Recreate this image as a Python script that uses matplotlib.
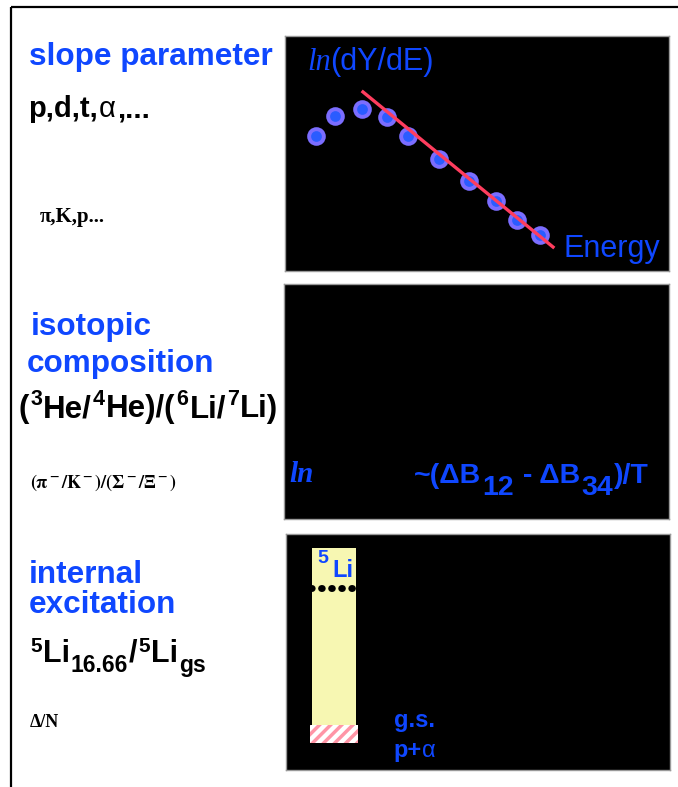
import numpy as np
import matplotlib.pyplot as plt
from matplotlib.patches import Rectangle

plt.rcParams['font.family'] = ['Liberation Sans', 'DejaVu Sans']
plt.rcParams['mathtext.fontset'] = 'custom'
plt.rcParams['mathtext.rm'] = 'Liberation Sans'
plt.rcParams['mathtext.bf'] = 'Liberation Sans:bold'
plt.rcParams['mathtext.it'] = 'Liberation Sans:italic'
plt.rcParams['hatch.linewidth'] = 2.5

BLUE = '#0f47ff'

# slope panel: spectrum points (energy, ln dY/dE) and the exponential fit
energy = [0.8, 1.3, 2.0, 2.65, 3.2, 4.0, 4.8, 5.5, 6.05, 6.65]
ln_yield = [5.75, 6.6, 6.9, 6.55, 5.75, 4.75, 3.85, 3.0, 2.15, 1.55]
fit_energy = [2.03, 6.98]
fit_ln_yield = [7.62, 1.02]

# 5Li level scheme (arbitrary energy units)
li5_column = [0.68, 1.82]
li5_bottom = 1.14
li5_top = 9.41
li5_excited = 7.71
li5_gs_band = [1.14, 1.91]

W, H = 678, 787
fig = plt.figure(figsize=(W / 100, H / 100), dpi=100)
bg = fig.add_axes([0, 0, 1, 1])
bg.set_xlim(0, W)
bg.set_ylim(H, 0)
bg.axis('off')
bg.add_patch(Rectangle((11, 7), W, H + 20, fill=False, lw=1.6, ec='black'))


def panel(x0, y0, x1, y1):
    ax = fig.add_axes([x0 / W, 1 - y1 / H, (x1 - x0) / W, (y1 - y0) / H])
    ax.set_facecolor('black')
    ax.set_xlim(0, 10)
    ax.set_ylim(0, 10)
    ax.set_xticks([])
    ax.set_yticks([])
    for s in ax.spines.values():
        s.set_color('#999999')
        s.set_linewidth(1)
    return ax


ax1 = panel(285, 36, 669, 271)
ax2 = panel(284, 284, 669, 519)
ax3 = panel(286, 534, 670, 770)

# text layer on top of everything, in pixel units
fg = fig.add_axes([0, 0, 1, 1], zorder=10)
fg.set_xlim(0, W)
fg.set_ylim(H, 0)
fg.axis('off')
renderer = fig.canvas.get_renderer()


def t(x, y, s, **kw):
    return fg.text(x, y, s, va='baseline', ha='left', **kw)


def pieces(x, y, parts, **base):
    # parts: (string, baseline shift in px, extra kwargs)
    for s, dy, kw in parts:
        opts = dict(base)
        opts.update(kw)
        txt = t(x, y + dy, s, **opts)
        x += txt.get_window_extent(renderer).width + 1


# ---- left column text
HEAD = dict(color=BLUE, fontsize=22.7, fontweight='bold')
t(29, 65, 'slope parameter', **HEAD)
pieces(28, 117, [('p,d,t,', 0, {}), ('α', 0, {'fontweight': 'normal'}), (',...', 0, {})],
       color='black', fontsize=21, fontweight='bold')
t(40, 222, 'π,K,p...', color='black', fontsize=15, fontweight='bold', family='Liberation Serif')
t(31, 335, 'isotopic', **HEAD)
t(27, 372, 'composition', **HEAD)
sup = {'fontsize': 15.5}
pieces(19, 417, [('(', 0, {}), ('3', -12, sup), ('He/', 0, {}), ('4', -12, sup),
                 ('He)/(', 0, {}), ('6', -12, sup), ('Li/', 0, {}), ('7', -12, sup),
                 ('Li)', 0, {})],
       color='black', fontsize=22.5, fontweight='bold')
t(30, 488, r'$\mathbf{(\pi^-/K^-)/(\Sigma^-/\Xi^-)}$', color='black', fontsize=13,
  math_fontfamily='stix')
t(29, 583, 'internal', **HEAD)
t(29, 613, 'excitation', **HEAD)
sup5 = {'fontsize': 15}
sub = {'fontsize': 16.5}
pieces(30, 662, [('5', -10, sup5), ('Li', 0, {}), ('16.66', 10, sub), ('/', 0, {}),
                 ('5', -10, sup5), ('Li', 0, {}), ('gs', 10, sub)],
       color='black', fontsize=22, fontweight='bold')
t(30, 727, 'Δ/N', color='black', fontsize=13, fontweight='bold', family='Liberation Serif')

# ---- panel 1: slope parameter
ax1.scatter(energy, ln_yield, s=180, color='#7b6dff', zorder=2, lw=0)
ax1.scatter(energy, ln_yield, s=60, color='#2a5cff', zorder=3, lw=0)
ax1.plot(fit_energy, fit_ln_yield, color='#ff3d5e', lw=2.4, zorder=4)
t(307, 70, 'ln', color=BLUE, fontsize=22, style='italic', family='Liberation Serif')
t(330, 70, '(dY/dE)', color=BLUE, fontsize=22)
t(564, 257, 'Energy', color=BLUE, fontsize=22)

# ---- panel 2: isotopic composition
t(289, 482, 'ln', color=BLUE, fontsize=21, style='italic', fontweight='bold',
  family='Liberation Serif')
pieces(414, 483, [('~(ΔB', 0, {}), ('12', 12, {}), (' - ΔB', 0, {}), ('34', 12, {}),
                  (')/T', 0, {})],
       color=BLUE, fontsize=20.5, fontweight='bold')

# ---- panel 3: internal excitation
ax3.bar(np.mean(li5_column), li5_top - li5_bottom, bottom=li5_bottom,
        width=li5_column[1] - li5_column[0], color='#f7f7b2', zorder=2)
ax3.bar(np.mean(li5_column), li5_gs_band[1] - li5_gs_band[0], bottom=li5_gs_band[0],
        width=li5_column[1] - li5_column[0] + 0.1, color='white', edgecolor='#ff95a6',
        hatch='///', lw=0, zorder=3)
ax3.plot([li5_column[0] - 0.02, li5_column[1] + 0.05], [li5_excited, li5_excited],
         color='black', lw=5, ls=(0, (0.1, 1.35)), dash_capstyle='round', zorder=4)
t(317, 563, '5', color=BLUE, fontsize=14, fontweight='bold')
t(332, 577, 'Li', color=BLUE, fontsize=17, fontweight='bold')
t(394, 727, 'g.s.', color=BLUE, fontsize=17, fontweight='bold')
pieces(393, 757, [('p+', 0, {}), ('α', 0, {'fontweight': 'normal'})],
       color=BLUE, fontsize=17, fontweight='bold')

fig.savefig('out.png', dpi=100)
